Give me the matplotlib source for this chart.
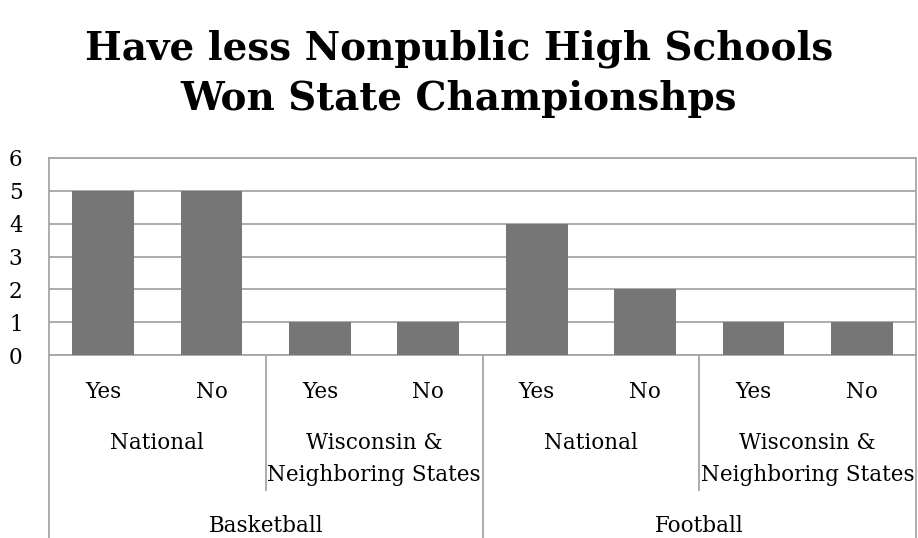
import matplotlib.pyplot as plt
import matplotlib.transforms as mtransforms

answers = ["Yes", "No", "Yes", "No", "Yes", "No", "Yes", "No"]
regions = ["National", "Wisconsin &\nNeighboring States", "National", "Wisconsin &\nNeighboring States"]
sports = ["Basketball", "Football"]
counts = [5, 5, 1, 1, 4, 2, 1, 1]

plt.rcParams['font.family'] = ['DejaVu Serif']

grid_col = "#a6a6a6"
fs = 15.5
fig = plt.figure(figsize=(9.18, 5.38), dpi=100)
ax = fig.add_axes([49 / 918, 1 - 355 / 538, 867 / 918, 197 / 538])

x = list(range(len(counts)))
ax.bar(x, counts, width=0.57, color="#767676", zorder=3)
ax.set_xlim(-0.5, len(counts) - 0.5)
ax.set_ylim(0, 6)
ax.set_yticks(range(7))
ax.yaxis.grid(True, color=grid_col, linewidth=1.3)
ax.set_axisbelow(True)
ax.tick_params(axis="y", length=0, pad=19, labelsize=fs)
ax.set_xticks([])
for s in ax.spines.values():
    s.set_color(grid_col)
    s.set_linewidth(1.3)

tr = mtransforms.blended_transform_factory(ax.transData, ax.transAxes)
lbl = dict(transform=tr, ha="center", va="center", fontsize=fs, clip_on=False)

for i, a in enumerate(answers):
    ax.text(i, -37 / 197, a, **lbl)
for j, r in enumerate(regions):
    yy = -88 / 197 if "\n" not in r else -104 / 197
    ax.text(2 * j + 0.5, yy, r, linespacing=1.6, **lbl)
for k, s in enumerate(sports):
    ax.text(4 * k + 1.5, -171 / 197, s, **lbl)

# dividers in the category table under the axis
for xs in [1.5, 5.5]:
    ax.plot([xs, xs], [0, -135 / 197], transform=tr, color=grid_col, lw=1.3, clip_on=False)
for xs in [-0.5, 3.5, 7.5]:
    ax.plot([xs, xs], [0, -1.0], transform=tr, color=grid_col, lw=1.3, clip_on=False)

fig.text(0.5, 1 - 74 / 538, "Have less Nonpublic High Schools\nWon State Championshps",
         ha="center", va="center", fontsize=28, fontweight="bold", linespacing=1.4)

fig.savefig("out.png", dpi=100)
